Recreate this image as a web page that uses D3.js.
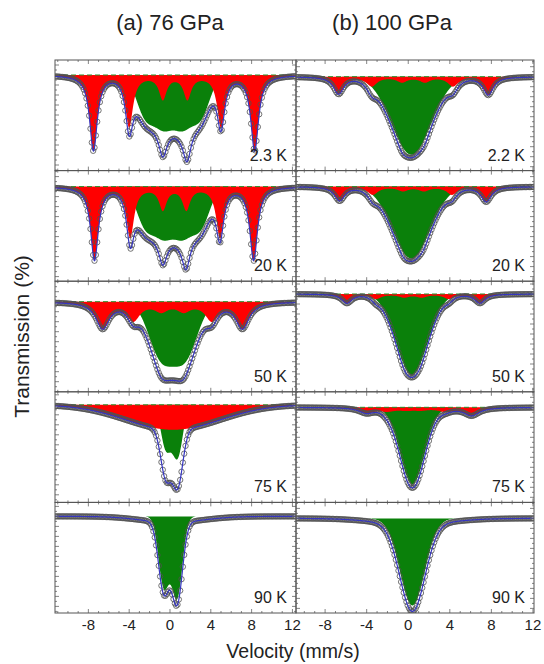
<!DOCTYPE html>
<meta charset="utf-8">
<html>
<head>
    <title>Mossbauer spectra</title>
    <script src="https://d3js.org/d3.v7.min.js"></script>
    <style>
        body { margin: 0; background: #fff; }
        text { font-family: Arial, "Liberation Sans", sans-serif; fill: #222; }
    </style>
</head>
<body>
<div id="chart"></div>
<script>

// ---- data ----
var columnTitles = ["(a) 76 GPa", "(b) 100 GPa"];
var temperatures = [["2.3 K", "20 K", "50 K", "75 K", "90 K"],
                    ["2.2 K", "20 K", "50 K", "75 K", "90 K"]];
var velocityTicks = [-8, -4, 0, 4, 8, 12];
var velocityRange = [[-11.27, 12.35], [-10.8, 12.1]];   // mm/s, left / right column
// transmission axis limits (%) of each panel, baseline = 100
var transMax = [[101.5, 101.6, 102.05, 101.3, 101.4],
                [101.67, 101.6, 101.28, 101.55, 101.6]];
// absorption lines: [velocity, depth %, width, shape]  L = Lorentzian, G = Gaussian
var redLines = [
    [[[-7.5, 7.5, 0.45], [-4.0, 5.1, 0.45], [-0.7, 2.3, 0.45], [1.7, 2.3, 0.45], [5.0, 5.1, 0.45], [8.3, 7.5, 0.45]],
     [[-7.4, 7.3, 0.45], [-3.9, 5.0, 0.45], [-0.7, 2.2, 0.45], [1.6, 2.2, 0.45], [4.9, 5.0, 0.45], [8.2, 7.3, 0.45]],
     [[-6.6, 2.6, 0.8], [-3.6, 1.75, 0.8], [-0.85, 0.8, 0.8], [1.35, 0.8, 0.8], [4.1, 1.75, 0.8], [7.1, 2.6, 0.8]],
     [[0.3, 2.5, 4.6, "G"]],
     []],
    [[[-6.7, 1.7, 0.6], [-3.5, 0.9, 0.6], [-0.6, 0.5, 0.6], [1.6, 0.5, 0.6], [4.3, 0.9, 0.6], [7.7, 1.8, 0.6]],
     [[-6.6, 1.4, 0.6], [-3.4, 0.75, 0.6], [-0.5, 0.4, 0.6], [1.5, 0.4, 0.6], [4.2, 0.75, 0.6], [7.5, 1.5, 0.6]],
     [[-5.9, 0.9, 0.6], [-3.1, 0.45, 0.6], [-0.4, 0.3, 0.6], [1.3, 0.3, 0.6], [3.9, 0.45, 0.6], [6.9, 0.9, 0.6]],
     [[-4.0, 0.55, 0.9], [-2.0, 0.3, 0.9], [-0.2, 0.2, 0.9], [1.2, 0.2, 0.9], [3.6, 0.35, 0.9], [6.1, 0.8, 0.9]],
     []]
];
var greenLines = [
    [[[-2.4, 4.0, 0.9, "G"], [-0.6, 4.5, 0.9, "G"], [1.2, 4.5, 0.9, "G"], [3.0, 4.0, 0.9, "G"]],
     [[-2.4, 3.85, 0.9, "G"], [-0.6, 4.3, 0.9, "G"], [1.2, 4.3, 0.9, "G"], [3.0, 3.85, 0.9, "G"]],
     [[-0.9, 5.36, 1.2, "G"], [1.5, 5.36, 1.2, "G"]],
     [[-0.4, 4.3, 0.5, "G"], [0.75, 5.1, 0.5, "G"]],
     [[-0.6, 6.95, 0.52, "G"], [0.7, 8.0, 0.52, "G"]]],
    [[[0.3, 7.8, 1.9, "G"]],
     [[0.3, 7.2, 1.8, "G"]],
     [[0.35, 8.1, 1.5, "G"]],
     [[0.4, 7.7, 1.17, "G"]],
     [[0.4, 8.7, 1.2, "G"]]]
];
// extra absorption only seen in the fit / data
var extraLines = [
    [[[1.6, 0.7, 0.45]], [[1.5, 0.6, 0.45]], [[0.3, 0.6, 1.0, "G"]],
     [[-0.4, 0.5, 0.5, "G"], [0.75, 0.5, 0.5, "G"]], [[0.2, 0.6, 3.0, "G"]]],
    [[], [], [], [], [[0.4, 0.6, 3.5, "G"]]]
];
var channels = 180;

// ---- layout ----
var W = 544, H = 664,
    cols = [[55, 296], [296, 534]],
    titleX = [170, 392],
    plotTop = 60, panelH = 110.6, rows = 5;

var svg = d3.select("#chart").append("svg")
    .attr("width", W).attr("height", H);

function absorb(lines, v) {
    var s = 0;
    lines.forEach(function (l) {
        var u = (v - l[0]) / l[2];
        s += (l[3] === "G") ? l[1] * Math.exp(-u * u / 2) : l[1] / (1 + u * u);
    });
    return s;
}

cols.forEach(function (c, ci) {
    var x = d3.scaleLinear().domain(velocityRange[ci]).range(c);
    var fine = d3.range(601).map(function (i) {
        return velocityRange[ci][0] + i * (velocityRange[ci][1] - velocityRange[ci][0]) / 600;
    });
    var chan = d3.range(channels).map(function (i) {
        return velocityRange[ci][0] + (i + 0.5) * (velocityRange[ci][1] - velocityRange[ci][0]) / channels;
    });

    svg.append("text")
        .attr("x", titleX[ci]).attr("y", 30)
        .attr("text-anchor", "middle").style("font-size", "22px")
        .text(columnTitles[ci]);

    for (var ri = 0; ri < rows; ri++) {
        var y0 = plotTop + ri * panelH, y1 = y0 + panelH;
        var y = d3.scaleLinear()
            .domain([transMax[ci][ri] - panelH / 10, transMax[ci][ri]])
            .range([y1, y0]);
        var red = redLines[ci][ri], green = greenLines[ci][ri], extra = extraLines[ci][ri];
        var total = function (v) { return absorb(red, v) + absorb(green, v) + absorb(extra, v); };

        var clipId = "clip" + ci + ri;
        svg.append("clipPath").attr("id", clipId).append("rect")
            .attr("x", c[0]).attr("y", y0).attr("width", c[1] - c[0]).attr("height", panelH);
        var g = svg.append("g").attr("clip-path", "url(#" + clipId + ")");

        g.append("path").datum(fine)
            .attr("fill", "#0a800a")
            .attr("d", d3.area().x(function (v) { return x(v); })
                .y0(y(100)).y1(function (v) { return y(100 - absorb(green, v)); }));
        if (red.length) {
            g.append("path").datum(fine)
                .attr("fill", "#ff0000")
                .attr("d", d3.area().x(function (v) { return x(v); })
                    .y0(y(100)).y1(function (v) { return y(100 - absorb(red, v)); }));
            g.append("line")
                .attr("x1", c[0]).attr("x2", c[1]).attr("y1", y(100)).attr("y2", y(100))
                .attr("stroke", "#2a8f2a").attr("stroke-width", 1).attr("stroke-dasharray", "5,3");
        }

        g.selectAll(".pt").data(chan).enter().append("circle")
            .attr("cx", function (v) { return x(v); })
            .attr("cy", function (v) { return y(100 - total(v)); })
            .attr("r", 2.7)
            .attr("fill", "none").attr("stroke", "#505050").attr("stroke-width", 0.8);

        g.append("path").datum(fine)
            .attr("fill", "none").attr("stroke", "#3535c0").attr("stroke-width", 1.2)
            .attr("d", d3.line().x(function (v) { return x(v); })
                .y(function (v) { return y(100 - total(v)); }));

        // frame and inward ticks
        var ax = svg.append("g").attr("stroke", "#666").attr("stroke-width", 0.8);
        d3.range(Math.ceil(velocityRange[ci][0]), Math.floor(velocityRange[ci][1]) + 1).forEach(function (v) {
            var len = (v % 4 === 0) ? 4 : 2;
            ax.append("line").attr("x1", x(v)).attr("x2", x(v)).attr("y1", y0).attr("y2", y0 + len);
            ax.append("line").attr("x1", x(v)).attr("x2", x(v)).attr("y1", y1).attr("y2", y1 - len);
        });
        d3.range(Math.ceil(y.domain()[0] * 2) / 2, y.domain()[1], 0.5).forEach(function (t) {
            var len = (Math.abs(t - Math.round(t)) < 0.01) ? 4 : 2;
            ax.append("line").attr("x1", c[0]).attr("x2", c[0] + len).attr("y1", y(t)).attr("y2", y(t));
            ax.append("line").attr("x1", c[1]).attr("x2", c[1] - len).attr("y1", y(t)).attr("y2", y(t));
        });
        svg.append("rect")
            .attr("x", c[0]).attr("y", y0).attr("width", c[1] - c[0]).attr("height", panelH)
            .attr("fill", "none").attr("stroke", "#555").attr("stroke-width", 1);

        svg.append("text")
            .attr("x", c[1] - 9).attr("y", y1 - 10)
            .attr("text-anchor", "end").style("font-size", "16px")
            .text(temperatures[ci][ri]);

        if (ri === rows - 1) {
            svg.selectAll(".tick" + ci).data(velocityTicks).enter().append("text")
                .attr("x", function (v) { return x(v); }).attr("y", y1 + 17)
                .attr("text-anchor", "middle").style("font-size", "15px")
                .text(function (v) { return v; });
        }
    }
});

svg.append("text")
    .attr("x", 293).attr("y", 658)
    .attr("text-anchor", "middle").style("font-size", "19.5px")
    .text("Velocity (mm/s)");

svg.append("text")
    .attr("transform", "translate(29," + (plotTop + rows * panelH / 2) + ") rotate(-90)")
    .attr("text-anchor", "middle").style("font-size", "21px")
    .text("Transmission (%)");

</script>
</body>
</html>
